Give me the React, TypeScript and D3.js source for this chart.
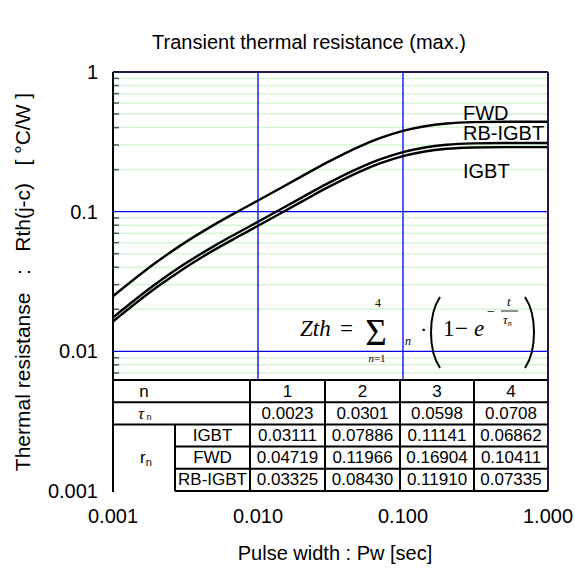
import React from "react";
import * as d3 from "d3";

// ---- data ----
const pulseWidths = [0.001, 0.002, 0.003, 0.005, 0.007, 0.01, 0.02, 0.03, 0.05, 0.07, 0.1, 0.2, 0.3, 0.5, 1.0];
const zthIGBT = [0.01636, 0.02872, 0.03845, 0.05326, 0.06476, 0.07919, 0.11795, 0.14851, 0.19287, 0.22221, 0.24952, 0.28189, 0.28827, 0.28992, 0.29];
const zthFWD = [0.02481, 0.04357, 0.05832, 0.08079, 0.09824, 0.12015, 0.17894, 0.22533, 0.29263, 0.33714, 0.37858, 0.4277, 0.43737, 0.43987, 0.44];
const zthRB = [0.01748, 0.0307, 0.0411, 0.05692, 0.06922, 0.08465, 0.12608, 0.15875, 0.20617, 0.23753, 0.26672, 0.30134, 0.30815, 0.30991, 0.31];

const seriesNames = ["FWD", "RB-IGBT", "IGBT"];

const xTickValues = [0.001, 0.01, 0.1, 1];
const xTickLabels = ["0.001", "0.010", "0.100", "1.000"];
const yTickValues = [0.001, 0.01, 0.1, 1];
const yTickLabels = ["0.001", "0.01", "0.1", "1"];

const tableN = ["1", "2", "3", "4"];
const tableTau = ["0.0023", "0.0301", "0.0598", "0.0708"];
const tableRowNames = ["IGBT", "FWD", "RB-IGBT"];
const rIGBT = ["0.03111", "0.07886", "0.11141", "0.06862"];
const rFWD = ["0.04719", "0.11966", "0.16904", "0.10411"];
const rRB = ["0.03325", "0.08430", "0.11910", "0.07335"];

const titleText = "Transient thermal resistance (max.)";
const xTitle = "Pulse width : Pw [sec]";
const yTitle = "Thermal resistanse\u00a0\u00a0 :\u00a0\u00a0 Rth(j-c)\u00a0\u00a0 [ °C/W ]";

// ---- layout ----
const W = 578;
const H = 574;
const L = 113;
const R = 548;
const T = 72;
const B = 491;
const SANS = "'Liberation Sans', Arial, sans-serif";
const SERIF = "'Liberation Serif', 'Times New Roman', serif";

export default function App() {
  const x = d3.scaleLog().domain([0.001, 1]).range([L, R]);
  const y = d3.scaleLog().domain([0.001, 1]).range([B, T]);

  const minorY: number[] = [];
  for (let d = 0.001; d < 1; d *= 10) {
    for (let k = 2; k <= 9; k++) minorY.push(d * k);
  }

  const line = d3
    .line<number>()
    .x((_, i) => x(pulseWidths[i]))
    .y((v) => y(v))
    .curve(d3.curveMonotoneX);

  const curves = [zthFWD, zthRB, zthIGBT];

  // table geometry
  const colX = [L, 175, 250, 325, 400, 474, R];
  const rowY = [380, 402.2, 424.4, 446.6, 468.8, B];
  const rRows = [rIGBT, rFWD, rRB];

  const cellText = (cx: number, cy: number, t: string, key: string) => (
    <text key={key} x={cx} y={cy} textAnchor="middle" dominantBaseline="central" fontSize={17} fontFamily={SANS}>
      {t}
    </text>
  );

  return (
    <svg width={W} height={H} style={{ position: "absolute", left: 0, top: 0, background: "#fff" }}>
      <rect x={0} y={0} width={W} height={H} fill="#fff" />
      {/* title */}
      <text x={309} y={42} textAnchor="middle" dominantBaseline="central" fontSize={20} fontFamily={SANS}>
        {titleText}
      </text>

      {/* minor grid */}
      {minorY.map((v, i) => (
        <line key={"mg" + i} x1={L} x2={R} y1={y(v)} y2={y(v)} stroke="#d6f5d6" strokeWidth={1.5} />
      ))}
      {/* minor ticks */}
      {minorY.map((v, i) => (
        <line key={"mt" + i} x1={L} x2={L + 6} y1={y(v)} y2={y(v)} stroke="#555" strokeWidth={1.5} />
      ))}
      {/* major grid */}
      {[0.01, 0.1].map((v) => (
        <line key={"hy" + v} x1={L} x2={R} y1={y(v)} y2={y(v)} stroke="#0000ee" strokeWidth={1.3} />
      ))}
      {[0.01, 0.1].map((v) => (
        <line key={"vx" + v} x1={x(v)} x2={x(v)} y1={T} y2={B} stroke="#0000ee" strokeWidth={1.3} />
      ))}

      {/* curves */}
      {curves.map((c, i) => (
        <path key={"c" + i} d={line(c) || ""} fill="none" stroke="#000" strokeWidth={2.4} />
      ))}

      {/* series labels */}
      <text x={463} y={120} fontSize={20} fontFamily={SANS}>{seriesNames[0]}</text>
      <text x={463} y={140} fontSize={20} fontFamily={SANS}>{seriesNames[1]}</text>
      <text x={463} y={178} fontSize={20} fontFamily={SANS}>{seriesNames[2]}</text>

      {/* formula */}
      <g fontFamily={SERIF}>
        <text x={300} y={336} fontSize={23} fontStyle="italic">Zth</text>
        <text x={340} y={336} fontSize={23}>=</text>
        <text x={376} y={345} fontSize={37} textAnchor="middle">Σ</text>
        <text x={378} y={307} fontSize={12} textAnchor="middle">4</text>
        <text x={377} y={362} fontSize={11} textAnchor="middle">
          <tspan fontStyle="italic">n</tspan>=1
        </text>
        <text x={405} y={345} fontSize={12} fontStyle="italic">n</text>
        <text x={420} y={337} fontSize={22}>·</text>
        <path d="M 440 297 C 428 315 428 350 440 368" fill="none" stroke="#000" strokeWidth={2} />
        <text x={443} y={336} fontSize={23}>1</text>
        <text x={455} y={336} fontSize={23}>−</text>
        <text x={474} y={336} fontSize={23} fontStyle="italic">e</text>
        <text x={487} y={316} fontSize={14}>−</text>
        <text x={507} y={306} fontSize={13} fontStyle="italic">t</text>
        <line x1={501} x2={518} y1={311} y2={311} stroke="#000" strokeWidth={0.9} />
        <text x={503} y={324} fontSize={13} fontStyle="italic">
          τ<tspan fontSize={8} dy={2}>n</tspan>
        </text>
        <path d="M 525 297 C 537 315 537 350 525 368" fill="none" stroke="#000" strokeWidth={2} />
      </g>

      {/* table */}
      <rect x={L} y={rowY[0]} width={R - L} height={B - rowY[0]} fill="#fff" />
      <g stroke="#000" strokeWidth={2}>
        {rowY.map((ry, i) => (
          <line key={"tr" + i} x1={i >= 3 ? colX[1] : L} x2={R} y1={ry} y2={ry} />
        ))}
        <line x1={colX[1]} x2={colX[1]} y1={rowY[2]} y2={B} />
        {colX.slice(2).map((cx, i) => (
          <line key={"tc" + i} x1={cx} x2={cx} y1={rowY[0]} y2={B} />
        ))}
      </g>
      {cellText(144, (rowY[0] + rowY[1]) / 2, "n", "hn")}
      <text x={138} y={(rowY[1] + rowY[2]) / 2} dominantBaseline="central" fontSize={17} fontFamily={SERIF} fontStyle="italic">
        τ<tspan fontSize={9} fontStyle="normal" fontFamily={SANS} dy={4}> n</tspan>
      </text>
      <text x={140} y={(rowY[2] + B) / 2} dominantBaseline="central" fontSize={17} fontFamily={SANS}>
        r<tspan fontSize={11} dy={4}>n</tspan>
      </text>
      {tableN.map((t, i) => cellText((colX[i + 2] + colX[i + 3]) / 2, (rowY[0] + rowY[1]) / 2, t, "n" + i))}
      {tableTau.map((t, i) => cellText((colX[i + 2] + colX[i + 3]) / 2, (rowY[1] + rowY[2]) / 2, t, "tau" + i))}
      {tableRowNames.map((nm, r) => cellText((colX[1] + colX[2]) / 2, (rowY[r + 2] + rowY[r + 3]) / 2, nm, "rn" + r))}
      {rRows.map((row, r) =>
        row.map((t, i) => cellText((colX[i + 2] + colX[i + 3]) / 2, (rowY[r + 2] + rowY[r + 3]) / 2, t, "r" + r + "-" + i))
      )}

      {/* frame */}
      <line x1={L} x2={R} y1={T} y2={T} stroke="#1a1a50" strokeWidth={2} />
      <line x1={R} x2={R} y1={T} y2={B} stroke="#1a1a50" strokeWidth={2} />
      <line x1={L} x2={L} y1={T} y2={B + 1} stroke="#000" strokeWidth={2} />

      {/* y ticks */}
      {yTickValues.map((v, i) => (
        <text key={"yl" + i} x={98} y={y(v)} textAnchor="end" dominantBaseline="central" fontSize={20} fontFamily={SANS}>
          {yTickLabels[i]}
        </text>
      ))}
      {/* x ticks */}
      {xTickValues.map((v, i) => (
        <text key={"xl" + i} x={x(v)} y={516} textAnchor="middle" dominantBaseline="central" fontSize={20} fontFamily={SANS}>
          {xTickLabels[i]}
        </text>
      ))}
      <text x={335} y={553} textAnchor="middle" dominantBaseline="central" fontSize={20} fontFamily={SANS}>
        {xTitle}
      </text>
      <text
        transform={`translate(22, 282) rotate(-90)`}
        textAnchor="middle"
        dominantBaseline="central"
        fontSize={21}
        fontFamily={SANS}
      >
        {yTitle}
      </text>
    </svg>
  );
}
